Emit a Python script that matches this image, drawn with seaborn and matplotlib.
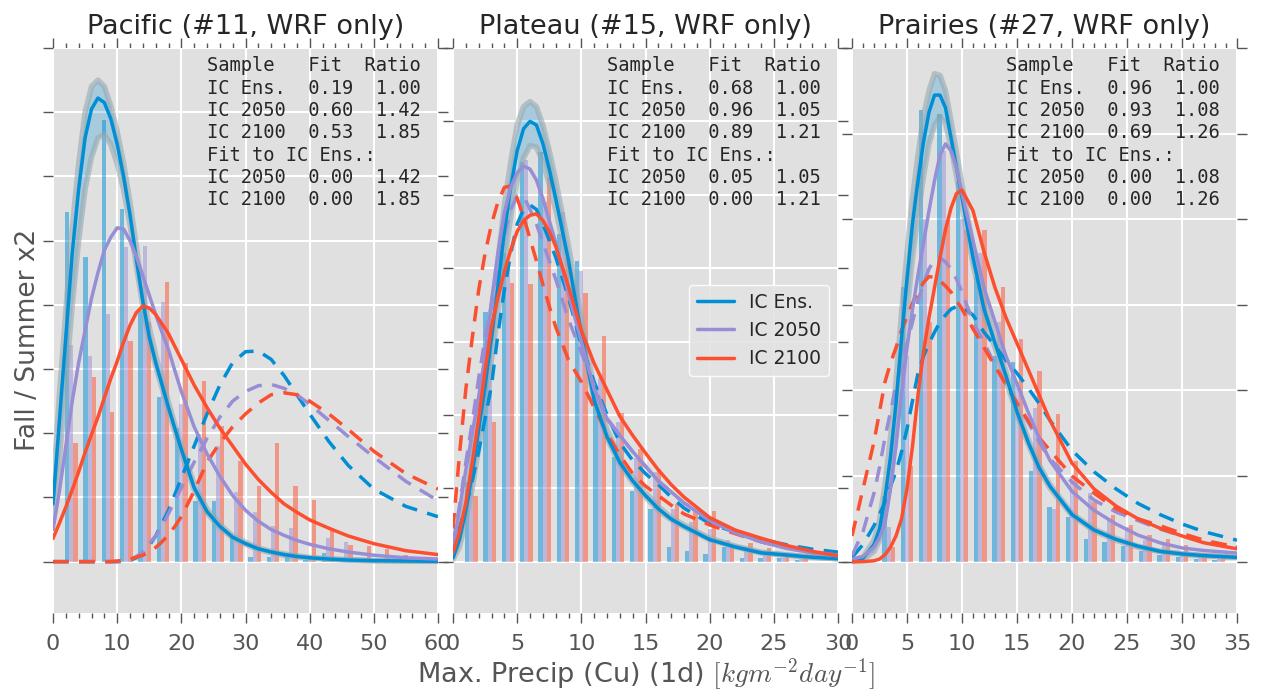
"""
Fall / Summer x2 extreme precipitation: histograms and fitted
distributions for three WRF regions (Pacific, Plateau, Prairies).
"""

import numpy as np
import pandas as pd
import matplotlib
matplotlib.use("Agg")
import matplotlib.pyplot as plt
from matplotlib.lines import Line2D
from matplotlib.ticker import MultipleLocator, NullLocator
import seaborn as sns

# ---------------------------------------------------------------- data
# y values are read in units of one (unlabelled) y grid step per panel
SERIES = ["IC Ens.", "IC 2050", "IC 2100"]

# Pacific (#11)
P1_X = [0, 1, 2, 3, 4, 5, 6, 7, 8, 9, 10, 11, 12, 13, 14, 15, 16, 17, 18, 19,
        20, 22, 24, 26, 28, 30, 32, 34, 36, 38, 40, 43, 46, 50, 55, 60]
P1_ENS = [0.9, 2.2, 3.5, 4.8, 5.8, 6.6, 7.05, 7.22, 7.15, 6.9, 6.5, 6.0, 5.4, 4.7, 4.05,
          3.5, 3.1, 2.75, 2.4, 2.07, 1.75, 1.15, 0.78, 0.55, 0.38, 0.28, 0.2, 0.15,
          0.11, 0.08, 0.06, 0.04, 0.025, 0.015, 0.01, 0.005]
P1_ENS_HI = [1.1, 2.6, 3.9, 5.2, 6.2, 7.0, 7.4, 7.5, 7.4, 7.1, 6.7, 6.2, 5.6, 4.9, 4.2,
             3.65, 3.22, 2.85, 2.48, 2.13, 1.8, 1.2, 0.82, 0.58, 0.4, 0.3, 0.21, 0.16,
             0.12, 0.09, 0.065, 0.045, 0.03, 0.017, 0.01, 0.006]
P1_ENS_LO = [0.6, 1.6, 2.8, 4.0, 5.0, 5.8, 6.3, 6.6, 6.65, 6.5, 6.2, 5.8, 5.25, 4.6, 3.98,
             3.45, 3.05, 2.7, 2.35, 2.02, 1.7, 1.12, 0.76, 0.53, 0.37, 0.27, 0.19, 0.14,
             0.1, 0.075, 0.055, 0.038, 0.024, 0.014, 0.009, 0.005]
P1_2050 = [0.5, 1.1, 1.8, 2.5, 3.1, 3.6, 4.1, 4.5, 4.85, 5.05, 5.2, 5.18, 5.0, 4.75, 4.45,
           4.15, 3.85, 3.57, 3.3, 2.97, 2.65, 2.1, 1.68, 1.33, 1.03, 0.8, 0.63, 0.5,
           0.41, 0.33, 0.27, 0.2, 0.15, 0.1, 0.06, 0.04]
P1_2100 = [0.36, 0.6, 0.85, 1.12, 1.4, 1.7, 1.98, 2.25, 2.55, 2.85, 3.12, 3.42, 3.68, 3.88,
           3.98, 3.95, 3.85, 3.7, 3.55, 3.35, 3.15, 2.75, 2.4, 2.08, 1.8, 1.52, 1.28,
           1.08, 0.9, 0.77, 0.65, 0.52, 0.4, 0.28, 0.17, 0.11]
P1_ENS_FIT = [0, 0, 0, 0, 0, 0, 0, 0, 0, 0, 0.0, 0.01, 0.02, 0.06, 0.14, 0.25, 0.4, 0.6,
              0.8, 1.05, 1.3, 1.8, 2.3, 2.75, 3.1, 3.27, 3.28, 3.15, 2.9, 2.6, 2.3,
              1.87, 1.5, 1.13, 0.86, 0.7]
P1_2050_FIT = [0, 0, 0, 0, 0, 0, 0, 0, 0, 0, 0, 0, 0.03, 0.08, 0.15, 0.28, 0.4, 0.55,
               0.75, 0.95, 1.15, 1.55, 1.92, 2.25, 2.5, 2.65, 2.74, 2.76, 2.7, 2.6,
               2.45, 2.2, 1.95, 1.63, 1.25, 0.95]
P1_2100_FIT = [0, 0, 0, 0, 0, 0, 0, 0, 0, 0, 0.01, 0.02, 0.04, 0.07, 0.1, 0.15, 0.22,
               0.31, 0.42, 0.55, 0.7, 1.1, 1.55, 1.85, 2.1, 2.3, 2.47, 2.6, 2.63, 2.6,
               2.5, 2.3, 2.06, 1.72, 1.37, 1.13]
P1_BAR_ENS = [0, 5.45, 4.75, 6.88, 5.5, 3.9, 2.56, 2.08, 0.95, 0.95, 0.4, 0.08, 0.08,
              0.07, 0.02, 0.14, 0.02, 0, 0, 0, 0, 0]
P1_BAR_2050 = [0, 3.38, 3.2, 3.85, 4.9, 4.92, 4.05, 2.45, 1.91, 1.8, 1.08, 0.78, 0.56,
               0.52, 0.05, 0.37, 0.31, 0.05, 0.03, 0.02, 0, 0]
P1_BAR_2100 = [0, 1.85, 2.87, 2.33, 3.43, 3.74, 4.35, 3.1, 2.81, 2.11, 1.57, 1.18, 1.85,
               1.18, 0.96, 0.53, 0.26, 0.25, 0.2, 0.1, 0.03, 0]
P1_FIT = [0.19, 0.60, 0.53, 0.00, 0.00]
P1_RATIO = [1.00, 1.42, 1.85, 1.42, 1.85]

# Plateau (#15)
P2_X = [0, 0.5, 1, 1.5, 2, 2.5, 3, 3.5, 4, 4.5, 5, 5.5, 6, 6.5, 7, 7.5, 8, 9, 10, 11,
        12, 13, 14, 15, 16, 17, 18, 20, 22, 24, 26, 28, 30]
P2_ENS = [0.05, 0.3, 0.7, 1.2, 1.8, 2.4, 3.05, 3.75, 4.5, 5.1, 5.6, 5.9, 6.0, 5.95, 5.7,
          5.35, 4.95, 4.1, 3.1, 2.2, 1.7, 1.35, 1.1, 0.9, 0.72, 0.58, 0.48, 0.3, 0.2,
          0.12, 0.09, 0.06, 0.04]
P2_ENS_HI = [0.08, 0.4, 0.85, 1.4, 2.05, 2.7, 3.4, 4.1, 4.85, 5.45, 5.95, 6.2, 6.27, 6.2,
             5.95, 5.6, 5.2, 4.3, 3.3, 2.35, 1.8, 1.42, 1.15, 0.94, 0.75, 0.6, 0.5,
             0.32, 0.21, 0.13, 0.09, 0.06, 0.04]
P2_ENS_LO = [0.03, 0.2, 0.55, 1.0, 1.55, 2.15, 2.75, 3.4, 4.1, 4.7, 5.2, 5.5, 5.67, 5.65,
             5.45, 5.15, 4.8, 4.0, 3.05, 2.2, 1.68, 1.33, 1.08, 0.88, 0.7, 0.57, 0.47,
             0.3, 0.2, 0.12, 0.09, 0.06, 0.04]
P2_2050 = [0.2, 0.7, 1.25, 1.75, 2.25, 2.8, 3.55, 4.2, 4.75, 5.1, 5.3, 5.39, 5.35, 5.2,
           4.95, 4.65, 4.35, 3.65, 3.0, 2.35, 1.95, 1.72, 1.5, 1.3, 1.1, 0.95, 0.8,
           0.56, 0.39, 0.27, 0.18, 0.12, 0.08]
P2_2100 = [0.12, 0.4, 0.8, 1.35, 1.95, 2.6, 3.2, 3.6, 3.95, 4.25, 4.5, 4.65, 4.72, 4.74,
           4.65, 4.5, 4.3, 3.75, 3.15, 2.7, 2.34, 1.98, 1.72, 1.48, 1.25, 1.05, 0.88,
           0.6, 0.43, 0.32, 0.22, 0.14, 0.08]
P2_ENS_FIT = [0.05, 0.45, 0.75, 1.1, 1.5, 1.95, 2.4, 3.1, 3.7, 4.2, 4.6, 4.8, 4.86, 4.8,
              4.6, 4.38, 4.15, 3.6, 2.95, 2.45, 2.0, 1.62, 1.38, 1.2, 1.05, 0.88, 0.73,
              0.52, 0.4, 0.3, 0.23, 0.17, 0.13]
P2_2050_FIT = [0.25, 0.75, 1.35, 1.9, 2.5, 3.05, 3.5, 4.0, 4.45, 4.8, 4.98, 4.98, 4.8,
               4.6, 4.35, 4.1, 3.85, 3.3, 2.85, 2.4, 1.95, 1.72, 1.5, 1.3, 1.1, 0.95,
               0.8, 0.58, 0.4, 0.28, 0.19, 0.13, 0.09]
P2_2100_FIT = [0.45, 1.45, 2.35, 3.05, 3.7, 4.2, 4.6, 4.9, 5.1, 5.12, 4.95, 4.7, 4.4,
               4.1, 3.78, 3.48, 3.2, 2.75, 2.45, 2.1, 1.75, 1.45, 1.2, 1.03, 0.9, 0.77,
               0.65, 0.5, 0.38, 0.27, 0.19, 0.12, 0.08]
P2_BAR_ENS = [0, 1.08, 3.4, 4.2, 5.45, 5.58, 4.46, 4.1, 2.4, 1.43, 0.96, 0.72, 0.2,
              0.15, 0.1, 0.2, 0.05, 0.05, 0.05, 0.02, 0, 0]
P2_BAR_2050 = [0, 1.66, 3.0, 4.1, 5.47, 4.9, 4.77, 3.96, 2.5, 1.9, 1.41, 1.22, 0.72,
               0.54, 0.45, 0.3, 0.2, 0.1, 0.05, 0.03, 0, 0]
P2_BAR_2100 = [0, 0.9, 1.9, 3.8, 3.78, 5.24, 4.14, 3.66, 3.08, 2.03, 1.53, 1.26, 0.78,
               0.69, 0.69, 0.22, 0.25, 0.18, 0.1, 0.05, 0, 0]
P2_FIT = [0.68, 0.96, 0.89, 0.05, 0.00]
P2_RATIO = [1.00, 1.05, 1.21, 1.05, 1.21]

# Prairies (#27)
P3_X = [0, 1, 2, 2.5, 3, 3.5, 4, 4.5, 5, 5.5, 6, 6.5, 7, 7.5, 8, 8.5, 9, 9.5, 10, 11,
        12, 13, 14, 15, 16, 17, 18, 20, 22, 24, 26, 28, 30, 32, 35]
P3_ENS = [0.01, 0.04, 0.2, 0.38, 0.75, 1.22, 1.85, 2.6, 3.3, 3.95, 4.45, 4.9, 5.25,
          5.45, 5.45, 5.3, 4.95, 4.6, 4.25, 3.55, 2.95, 2.55, 2.17, 1.75, 1.4, 1.1,
          0.88, 0.55, 0.37, 0.26, 0.18, 0.12, 0.09, 0.07, 0.05]
P3_ENS_HI = [0.01, 0.05, 0.25, 0.48, 0.9, 1.45, 2.1, 2.9, 3.6, 4.25, 4.75, 5.2, 5.5,
             5.7, 5.68, 5.5, 5.15, 4.78, 4.4, 3.68, 3.05, 2.62, 2.22, 1.8, 1.44, 1.13,
             0.9, 0.56, 0.38, 0.27, 0.18, 0.12, 0.09, 0.07, 0.05]
P3_ENS_LO = [0.0, 0.02, 0.12, 0.25, 0.55, 0.95, 1.5, 2.2, 2.9, 3.55, 4.05, 4.5, 4.88,
             5.1, 5.2, 5.12, 4.85, 4.5, 4.15, 3.48, 2.9, 2.5, 2.12, 1.72, 1.38, 1.08,
             0.86, 0.54, 0.36, 0.25, 0.17, 0.12, 0.09, 0.07, 0.05]
P3_2050 = [0.03, 0.06, 0.17, 0.28, 0.45, 0.85, 1.35, 1.95, 2.5, 2.95, 3.35, 3.72, 4.1,
           4.45, 4.75, 4.88, 4.8, 4.6, 4.3, 3.75, 3.2, 2.8, 2.4, 2.08, 1.75, 1.45,
           1.18, 0.82, 0.6, 0.44, 0.31, 0.22, 0.16, 0.13, 0.1]
P3_2100 = [0.0, 0.0, 0.01, 0.03, 0.08, 0.17, 0.3, 0.5, 0.85, 1.35, 1.95, 2.45, 2.85,
           3.2, 3.55, 3.88, 4.13, 4.3, 4.34, 4.1, 3.62, 3.2, 2.85, 2.55, 2.25, 1.95,
           1.65, 1.15, 0.85, 0.65, 0.5, 0.39, 0.3, 0.22, 0.15]
P3_ENS_FIT = [0.05, 0.2, 0.42, 0.55, 0.7, 0.88, 1.05, 1.28, 1.55, 1.88, 2.2, 2.4, 2.55,
              2.68, 2.8, 2.88, 2.95, 2.98, 2.98, 2.88, 2.68, 2.52, 2.35, 2.2, 2.03,
              1.85, 1.65, 1.3, 1.05, 0.85, 0.68, 0.55, 0.44, 0.35, 0.25]
P3_2050_FIT = [0.07, 0.35, 0.8, 1.1, 1.45, 1.75, 2.05, 2.3, 2.55, 2.8, 3.05, 3.25, 3.42,
               3.53, 3.55, 3.5, 3.42, 3.3, 3.15, 2.8, 2.56, 2.3, 2.07, 1.85, 1.63, 1.4,
               1.2, 0.93, 0.72, 0.58, 0.48, 0.38, 0.3, 0.23, 0.17]
P3_2100_FIT = [0.3, 0.85, 1.4, 1.75, 2.1, 2.32, 2.5, 2.7, 2.86, 3.02, 3.15, 3.26, 3.33,
               3.32, 3.28, 3.22, 3.15, 3.05, 2.95, 2.72, 2.5, 2.28, 2.07, 1.85, 1.65,
               1.45, 1.3, 1.0, 0.8, 0.62, 0.5, 0.42, 0.33, 0.25, 0.17]
P3_BAR_ENS = [0, 0.02, 0.77, 3.21, 5.27, 5.23, 4.45, 3.33, 2.4, 2.33, 1.06, 0.64, 0.52,
              0.27, 0.23, 0.18, 0.12, 0.08, 0.05, 0.03, 0.02, 0]
P3_BAR_2050 = [0, 0.02, 0.4, 2.4, 4.0, 4.8, 4.0, 3.6, 2.8, 2.1, 1.8, 0.62, 0.98, 0.8,
               0.5, 0.4, 0.25, 0.2, 0.1, 0.06, 0.03, 0]
P3_BAR_2100 = [0, 0, 0.17, 1.12, 2.8, 3.99, 3.87, 3.87, 3.21, 2.6, 2.23, 1.72, 1.17,
               0.7, 0.54, 0.43, 0.31, 0.27, 0.2, 0.1, 0.05, 0]
P3_FIT = [0.96, 0.93, 0.69, 0.00, 0.00]
P3_RATIO = [1.00, 1.08, 1.26, 1.08, 1.26]

TITLES = ["Pacific (#11, WRF only)", "Plateau (#15, WRF only)", "Prairies (#27, WRF only)"]
XMAX = [60, 30, 35]
YTOP = [8, 7, 6]

# ---------------------------------------------------------------- style
COLORS = ["#008fd5", "#988ed5", "#fc4f30"]
BAND_LINE = "#97a9b2"
TICK_GRAY = "#555555"
DASH = (0, (4.5, 3))

sns.set_theme(style="darkgrid", rc={
    "axes.facecolor": "#e0e0e0",
    "grid.color": "white",
    "grid.linewidth": 1.5,
    "mathtext.fontset": "cm",
})
plt.rcParams["font.family"] = ["DejaVu Sans"]


def table_text(fit, ratio):
    lines = ["Sample   Fit  Ratio"]
    for name, f, r in zip(SERIES, fit[:3], ratio[:3]):
        lines.append(f"{name:<7}  {f:.2f}  {r:.2f}")
    lines.append("Fit to IC Ens.:")
    for name, f, r in zip(SERIES[1:], fit[3:], ratio[3:]):
        lines.append(f"{name:<7}  {f:.2f}  {r:.2f}")
    return "\n".join(lines)


def draw_panel(ax, x, solid, band, dashed, bars, xmax, ytop, title, fit, ratio):
    # histograms of the three samples, dodged inside each bin
    n = len(bars[0])
    centers = np.linspace(0, xmax, n)
    w = centers[1] - centers[0]
    edges = np.append(centers - w / 2, centers[-1] + w / 2)
    df = pd.DataFrame({
        "x": np.tile(centers, 3),
        "h": np.concatenate(bars),
        "series": np.repeat(SERIES, n),
    })
    sns.histplot(data=df, x="x", weights="h", hue="series", hue_order=SERIES,
                 palette=COLORS, bins=edges.tolist(), multiple="dodge", shrink=0.68,
                 alpha=0.5, linewidth=0, legend=False, ax=ax, zorder=1)

    # confidence band around the IC Ens. fit
    lo, hi = band
    ax.fill_between(x, lo, hi, color=COLORS[0], alpha=0.25, lw=0, zorder=2)
    for yb in (lo, hi):
        sns.lineplot(x=x, y=yb, color=BAND_LINE, lw=4, alpha=0.6,
                     estimator=None, sort=False, ax=ax, zorder=2)

    # fits of each sample to the IC Ens. shape (dashed)
    for y, c in zip(dashed, COLORS):
        sns.lineplot(x=x, y=y, color=c, lw=2.5,
                     estimator=None, sort=False, ax=ax, zorder=3)
        ax.lines[-1].set_linestyle(DASH)
    for y, c in zip(solid, COLORS):
        sns.lineplot(x=x, y=y, color=c, lw=2.5,
                     estimator=None, sort=False, ax=ax, zorder=4)

    ax.set_xlim(0, xmax)
    ax.set_ylim(-0.1 * ytop, ytop)
    ax.set_xlabel("")
    ax.set_ylabel("")
    major = 10 if xmax > 40 else 5
    ax.xaxis.set_major_locator(MultipleLocator(major))
    ax.xaxis.set_minor_locator(MultipleLocator(major / 5))
    ax.yaxis.set_major_locator(MultipleLocator(1))
    ax.yaxis.set_minor_locator(NullLocator())
    ax.grid(True, which="major", color="white", lw=1.5)
    ax.grid(False, which="minor")
    ax.set_axisbelow(True)
    for sp in ax.spines.values():
        sp.set_visible(False)
    ax.tick_params(which="both", direction="out", top=True, bottom=True,
                   left=True, right=True, labelleft=False, labelright=False,
                   labeltop=False, color=TICK_GRAY, width=1)
    ax.tick_params(which="major", length=7)
    ax.tick_params(which="minor", length=3.5)
    ax.tick_params(axis="x", labelsize=16, labelcolor=TICK_GRAY, pad=8)
    ax.set_title(title, fontsize=19.5, pad=10)

    ax.text(0.40, 0.985, table_text(fit, ratio), transform=ax.transAxes,
            ha="left", va="top", family="DejaVu Sans Mono", fontsize=13.5,
            linespacing=1.22, zorder=6)


fig = plt.figure(figsize=(12.61, 6.94), dpi=100)
W, H = 1261.0, 694.0
lefts = [53, 453, 852]
axes = [fig.add_axes([l / W, 81 / H, 385 / W, 565 / H]) for l in lefts]

panels = [
    (P1_X, [P1_ENS, P1_2050, P1_2100], (P1_ENS_LO, P1_ENS_HI),
     [P1_ENS_FIT, P1_2050_FIT, P1_2100_FIT], [P1_BAR_ENS, P1_BAR_2050, P1_BAR_2100],
     P1_FIT, P1_RATIO),
    (P2_X, [P2_ENS, P2_2050, P2_2100], (P2_ENS_LO, P2_ENS_HI),
     [P2_ENS_FIT, P2_2050_FIT, P2_2100_FIT], [P2_BAR_ENS, P2_BAR_2050, P2_BAR_2100],
     P2_FIT, P2_RATIO),
    (P3_X, [P3_ENS, P3_2050, P3_2100], (P3_ENS_LO, P3_ENS_HI),
     [P3_ENS_FIT, P3_2050_FIT, P3_2100_FIT], [P3_BAR_ENS, P3_BAR_2050, P3_BAR_2100],
     P3_FIT, P3_RATIO),
]

for i, (ax, p) in enumerate(zip(axes, panels)):
    x, solid, band, dashed, bars, fit, ratio = p
    draw_panel(ax, np.array(x), [np.array(s) for s in solid],
               tuple(np.array(b) for b in band), [np.array(d) for d in dashed],
               bars, XMAX[i], YTOP[i], TITLES[i], fit, ratio)

handles = [Line2D([], [], color=c, lw=2.5) for c in COLORS]
axes[1].legend(handles, SERIES, loc="center right", fontsize=13.5, frameon=True,
               facecolor="#e3e3e3", edgecolor="white", framealpha=0.9)

fig.text(0.022, 0.51, "Fall / Summer x2", rotation=90, ha="center", va="center",
         fontsize=19, color=TICK_GRAY)
fig.text(0.512, 0.028, r"Max. Precip (Cu) (1d) $[kgm^{-2}day^{-1}]$",
         ha="center", va="center", fontsize=19.5, color=TICK_GRAY)

fig.savefig("out.png", dpi=100)
